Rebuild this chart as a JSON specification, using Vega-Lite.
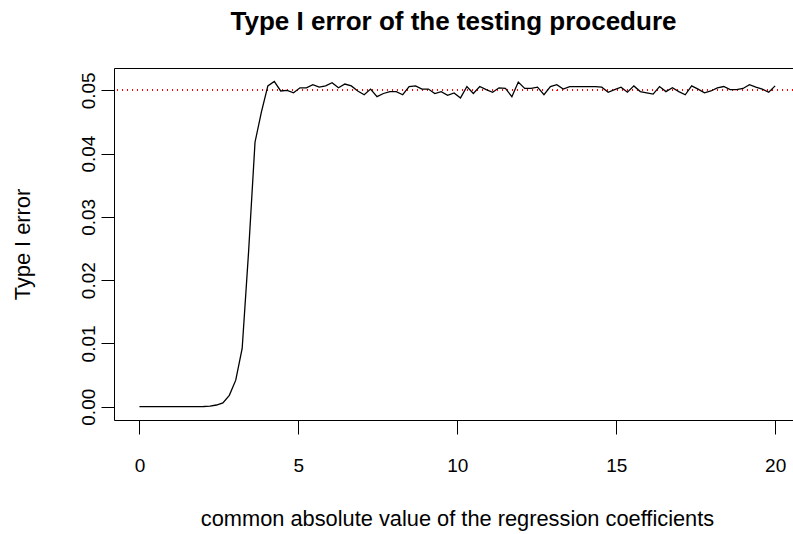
{
  "$schema": "https://vega.github.io/schema/vega-lite/v6.json",
  "autosize": "none",
  "width": 679,
  "height": 352,
  "padding": {"left": 114, "top": 68, "right": 0, "bottom": 114},
  "background": "white",
  "config": {
    "view": {"stroke": "black", "strokeWidth": 1},
    "font": "Liberation Sans",
    "axis": {"grid": false, "domain": false, "tickColor": "black", "labelColor": "black", "titleColor": "black", "labelFont": "Liberation Sans", "titleFont": "Liberation Sans", "titleFontWeight": "normal"}
  },
  "title": {"text": "Type I error of the testing procedure", "fontSize": 26, "fontWeight": "bold", "font": "Liberation Sans", "anchor": "middle", "frame": "group", "offset": 33, "color": "black"},
  "data": {"values": [
    {"x": 0, "y": 0}, {"x": 0.202, "y": 0}, {"x": 0.404, "y": 0}, {"x": 0.6061, "y": 0}, {"x": 0.8081, "y": 0},
    {"x": 1.0101, "y": 0}, {"x": 1.2121, "y": 0}, {"x": 1.4141, "y": 0}, {"x": 1.6162, "y": 0}, {"x": 1.8182, "y": 0},
    {"x": 2.0202, "y": 0.00003}, {"x": 2.2222, "y": 0.0001}, {"x": 2.4242, "y": 0.00027}, {"x": 2.6263, "y": 0.0006}, {"x": 2.8283, "y": 0.0018},
    {"x": 3.0303, "y": 0.0042}, {"x": 3.2323, "y": 0.0092}, {"x": 3.4343, "y": 0.0245}, {"x": 3.6364, "y": 0.0418}, {"x": 3.8384, "y": 0.0466},
    {"x": 4.0404, "y": 0.0507}, {"x": 4.2424, "y": 0.0514}, {"x": 4.4444, "y": 0.0499}, {"x": 4.6465, "y": 0.05}, {"x": 4.8485, "y": 0.0496},
    {"x": 5.0505, "y": 0.0504}, {"x": 5.2525, "y": 0.0504}, {"x": 5.4545, "y": 0.0509}, {"x": 5.6566, "y": 0.0505}, {"x": 5.8586, "y": 0.0507},
    {"x": 6.0606, "y": 0.0512}, {"x": 6.2626, "y": 0.0504}, {"x": 6.4646, "y": 0.051}, {"x": 6.6667, "y": 0.0507}, {"x": 6.8687, "y": 0.0499},
    {"x": 7.0707, "y": 0.0493}, {"x": 7.2727, "y": 0.0502}, {"x": 7.4747, "y": 0.049}, {"x": 7.6768, "y": 0.0495}, {"x": 7.8788, "y": 0.0498},
    {"x": 8.0808, "y": 0.0498}, {"x": 8.2828, "y": 0.0493}, {"x": 8.4848, "y": 0.0506}, {"x": 8.6869, "y": 0.0507}, {"x": 8.8889, "y": 0.0502},
    {"x": 9.0909, "y": 0.0502}, {"x": 9.2929, "y": 0.0495}, {"x": 9.4949, "y": 0.0498}, {"x": 9.697, "y": 0.0492}, {"x": 9.899, "y": 0.0496},
    {"x": 10.101, "y": 0.0488}, {"x": 10.303, "y": 0.0506}, {"x": 10.5051, "y": 0.0495}, {"x": 10.7071, "y": 0.0506}, {"x": 10.9091, "y": 0.0501},
    {"x": 11.1111, "y": 0.0497}, {"x": 11.3131, "y": 0.0504}, {"x": 11.5152, "y": 0.0503}, {"x": 11.7172, "y": 0.049}, {"x": 11.9192, "y": 0.0513},
    {"x": 12.1212, "y": 0.0503}, {"x": 12.3232, "y": 0.0503}, {"x": 12.5253, "y": 0.0505}, {"x": 12.7273, "y": 0.0493}, {"x": 12.9293, "y": 0.0506},
    {"x": 13.1313, "y": 0.0509}, {"x": 13.3333, "y": 0.0502}, {"x": 13.5354, "y": 0.0506}, {"x": 13.7374, "y": 0.0506}, {"x": 13.9394, "y": 0.0506},
    {"x": 14.1414, "y": 0.0506}, {"x": 14.3434, "y": 0.0506}, {"x": 14.5455, "y": 0.0505}, {"x": 14.7475, "y": 0.0497}, {"x": 14.9495, "y": 0.0501},
    {"x": 15.1515, "y": 0.0505}, {"x": 15.3535, "y": 0.0497}, {"x": 15.5556, "y": 0.0507}, {"x": 15.7576, "y": 0.0498}, {"x": 15.9596, "y": 0.0496},
    {"x": 16.1616, "y": 0.0494}, {"x": 16.3636, "y": 0.0506}, {"x": 16.5657, "y": 0.0498}, {"x": 16.7677, "y": 0.0504}, {"x": 16.9697, "y": 0.0498},
    {"x": 17.1717, "y": 0.0493}, {"x": 17.3737, "y": 0.0507}, {"x": 17.5758, "y": 0.0502}, {"x": 17.7778, "y": 0.0496}, {"x": 17.9798, "y": 0.0499},
    {"x": 18.1818, "y": 0.0504}, {"x": 18.3838, "y": 0.0506}, {"x": 18.5859, "y": 0.0501}, {"x": 18.7879, "y": 0.0501}, {"x": 18.9899, "y": 0.0503},
    {"x": 19.1919, "y": 0.0509}, {"x": 19.3939, "y": 0.0505}, {"x": 19.596, "y": 0.0502}, {"x": 19.798, "y": 0.0497}, {"x": 20, "y": 0.0507}
  ]},
  "layer": [
    {
      "mark": {"type": "rule", "color": "#FF0000", "strokeWidth": 1, "strokeDash": [1, 4]},
      "encoding": {"y": {"datum": 0.05, "type": "quantitative"}}
    },
    {
      "mark": {"type": "line", "color": "black", "strokeWidth": 1.3, "clip": true},
      "encoding": {
        "x": {"field": "x", "type": "quantitative",
          "scale": {"domain": [-0.8, 20.562], "nice": false, "zero": false},
          "axis": {"values": [0, 5, 10, 15, 20], "tickSize": 14, "labelFontSize": 19, "labelPadding": 31, "labelBaseline": "middle", "title": "common absolute value of the regression coefficients", "titleFontSize": 21.8, "titleY": 98, "titleX": 343, "titleBaseline": "middle", "titleAnchor": "middle"}},
        "y": {"field": "y", "type": "quantitative",
          "scale": {"domain": [-0.0021, 0.05353], "nice": false, "zero": false},
          "axis": {"values": [0, 0.01, 0.02, 0.03, 0.04, 0.05], "format": ".2f", "tickSize": 13, "labelFontSize": 19, "labelAngle": -90, "labelAlign": "center", "labelBaseline": "middle", "labelPadding": 13, "title": "Type I error", "titleFontSize": 21.8, "titleX": -92, "titleY": 176, "titleAngle": -90, "titleAlign": "center", "titleBaseline": "middle"}}
      }
    }
  ]
}
